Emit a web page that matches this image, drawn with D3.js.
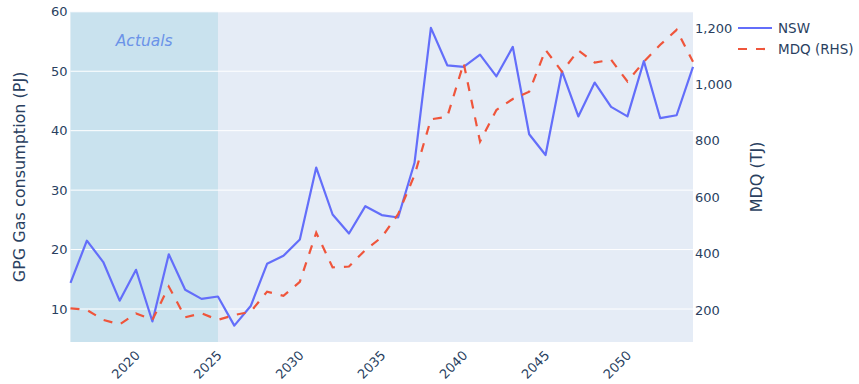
<!DOCTYPE html>
<html><head><meta charset="utf-8">
<script src="https://cdn.jsdelivr.net/npm/d3@7"></script>
<style>body{margin:0;background:#fff;} svg{display:block;font-family:"DejaVu Sans",Verdana,sans-serif;}</style>
</head><body>
<svg id="c" width="859" height="384"></svg>
<script>
const years = d3.range(2016, 2055);
const nsw = [14.4,21.5,17.9,11.4,16.6,7.9,19.2,13.25,11.7,12.1,7.2,10.5,17.6,18.95,21.7,33.8,25.9,22.7,27.3,25.8,25.4,34.6,57.3,51.0,50.75,52.8,49.15,54.1,39.4,35.9,50.0,42.4,48.1,44.0,42.4,51.7,42.1,42.6,50.75];
const mdq = [206,200,165,149,188,165,283,174,188,165,182,194,265,250,300,474,351,354,413,458,540,678,876,885,1075,797,909,948,974,1122,1045,1120,1077,1087,1010,1080,1140,1193,1080];
const leftTicks = [10,20,30,40,50,60];
const rightTicks = [200,400,600,800,1000,1200];
const xTicks = [2020,2025,2030,2035,2040,2045,2050];
const actualsEnd = 2025;

const L=70.5, R=693, T=11.8, B=342;
const svg = d3.select("#c");
const x = d3.scaleLinear().domain([2016,2054]).range([L,R]);
const yL = d3.scaleLinear().domain([4.45,60]).range([B,T]);
const yR = d3.scaleLinear().domain([86.5,1257]).range([B,T]);

svg.append("rect").attr("x",L).attr("y",T).attr("width",R-L).attr("height",B-T).attr("fill","#E5ECF6");
svg.append("rect").attr("x",L).attr("y",T).attr("width",x(actualsEnd)-L).attr("height",B-T).attr("fill","rgb(173,216,230)").attr("fill-opacity",0.5);

// grid
svg.append("g").selectAll("line").data(leftTicks).join("line")
  .attr("x1",L).attr("x2",R).attr("y1",d=>yL(d)).attr("y2",d=>yL(d))
  .attr("stroke","#fff").attr("stroke-width",1);

// axes
const axL = svg.append("g").attr("transform",`translate(${L},0)`).call(d3.axisLeft(yL).tickValues(leftTicks).tickSize(0).tickPadding(3));
const axR = svg.append("g").attr("transform",`translate(${R},0)`).call(d3.axisRight(yR).tickValues(rightTicks).tickSize(0).tickPadding(2).tickFormat(d3.format(",")));
const axB = svg.append("g").attr("transform",`translate(0,${B})`).call(d3.axisBottom(x).tickValues(xTicks).tickSize(0).tickFormat(d3.format("d")));
[axL,axR,axB].forEach(a=>{a.select(".domain").remove(); a.selectAll("text").attr("fill","#2a3f5f").style("font-size","13px").style("font-family","'DejaVu Sans',Verdana,sans-serif");});
axB.selectAll(".tick text").attr("text-anchor","end").attr("dy","0.35em").attr("y",0)
  .attr("transform","translate(1,11) rotate(-45)");

// lines
const lineL = d3.line().x((d,i)=>x(years[i])).y(d=>yL(d));
const lineR = d3.line().x((d,i)=>x(years[i])).y(d=>yR(d));
svg.append("path").datum(nsw).attr("d",lineL).attr("fill","none").attr("stroke","#636efa").attr("stroke-width",2.2).attr("stroke-linejoin","round");
svg.append("path").datum(mdq).attr("d",lineR).attr("fill","none").attr("stroke","#EF553B").attr("stroke-width",2.2).attr("stroke-dasharray","9,9");

// annotation
svg.append("text").attr("x",(L+x(actualsEnd))/2).attr("y",46).attr("text-anchor","middle")
  .attr("fill","#6b93e8").style("font-size","15.5px").style("font-style","italic").text("Actuals");

// axis titles
svg.append("text").attr("transform",`translate(25,${(T+B)/2}) rotate(-90)`).attr("text-anchor","middle")
  .attr("fill","#2a3f5f").style("font-size","16px").text("GPG Gas consumption (PJ)");
svg.append("text").attr("transform",`translate(762,${(T+B)/2}) rotate(-90)`).attr("text-anchor","middle")
  .attr("fill","#2a3f5f").style("font-size","16px").text("MDQ (TJ)");

// legend
const leg = [{n:"NSW",c:"#636efa",d:null,y:28},{n:"MDQ (RHS)",c:"#EF553B",d:"9,9",y:49}];
leg.forEach(l=>{
  svg.append("line").attr("x1",738).attr("x2",772).attr("y1",l.y).attr("y2",l.y).attr("stroke",l.c).attr("stroke-width",2.2).attr("stroke-dasharray",l.d);
  svg.append("text").attr("x",778).attr("y",l.y).attr("dy","0.35em").attr("fill","#2a3f5f").style("font-size","13.5px").text(l.n);
});
</script>
</body></html>
